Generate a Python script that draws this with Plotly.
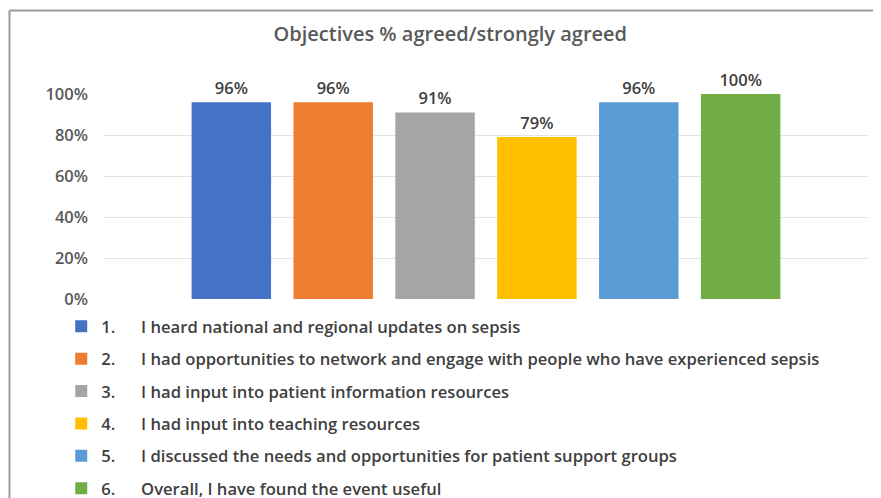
import plotly.graph_objects as go

# objective numbers, statements and % agreed/strongly agreed
numbers = ["1.", "2.", "3.", "4.", "5.", "6."]
statements = [
    "I heard national and regional updates on sepsis",
    "I had opportunities to network and engage with people who have experienced sepsis",
    "I had input into patient information resources",
    "I had input into teaching resources",
    "I discussed the needs and opportunities for patient support groups",
    "Overall, I have found the event useful",
]
agreed = [0.96, 0.96, 0.91, 0.79, 0.96, 1.00]
colors = ["#4472C4", "#ED7D31", "#A5A5A5", "#FFC000", "#5B9BD5", "#70AD47"]

FONT = "Open Sans"

fig = go.Figure()
for i in range(len(numbers)):
    label = numbers[i] + "\u00a0" * 6 + statements[i]
    fig.add_trace(go.Bar(
        x=["Objectives"], y=[agreed[i]], name=label,
        marker=dict(color=colors[i], line=dict(width=0)),
        texttemplate="%{y:.0%}", textposition="outside",
        textfont=dict(size=16.5, color="#404040", family=FONT, weight=600),
        cliponaxis=False, legendgroup=str(i),
    ))

# page body has an 8px margin, so everything is laid out 8px up/left
fig.update_layout(
    width=881, height=498,
    paper_bgcolor="white", plot_bgcolor="white",
    margin=dict(l=96, r=21, t=86, b=207, autoexpand=False),
    barmode="group", bargap=0.2, bargroupgap=0.22,
    title=dict(text="Objectives % agreed/strongly agreed", x=0.502, xanchor="center",
               y=0.948, yanchor="middle",
               font=dict(size=20, color="#595959", family=FONT, weight=600)),
    font=dict(family=FONT, color="#404040"),
    showlegend=True,
    legend=dict(orientation="v", x=-0.056, xanchor="left", y=-0.049, yanchor="top",
                font=dict(size=16.6, color="#404040", family=FONT, weight=600),
                tracegroupgap=7.8, traceorder="grouped", bgcolor="rgba(0,0,0,0)"),
    shapes=[
        dict(type="line", xref="paper", yref="paper", x0=-0.1237, x1=1.1, y0=1.407, y1=1.407,
             line=dict(color="#9a9a9a", width=2)),
        dict(type="line", xref="paper", yref="paper", x0=-0.1237, x1=-0.1237, y0=1.407, y1=-1.2,
             line=dict(color="#9a9a9a", width=2)),
    ],
)
fig.update_xaxes(showticklabels=False, showgrid=False, zeroline=False, showline=False)
fig.update_yaxes(range=[0, 1], tickvals=[0, 0.2, 0.4, 0.6, 0.8, 1.0], tickformat=".0%",
                 showgrid=True, gridcolor="#e3e3e3", gridwidth=1, zeroline=False,
                 ticks="", ticklabelstandoff=15,
                 tickfont=dict(size=16.5, color="#595959", family=FONT, weight=600))

fig.write_html("out.html")
